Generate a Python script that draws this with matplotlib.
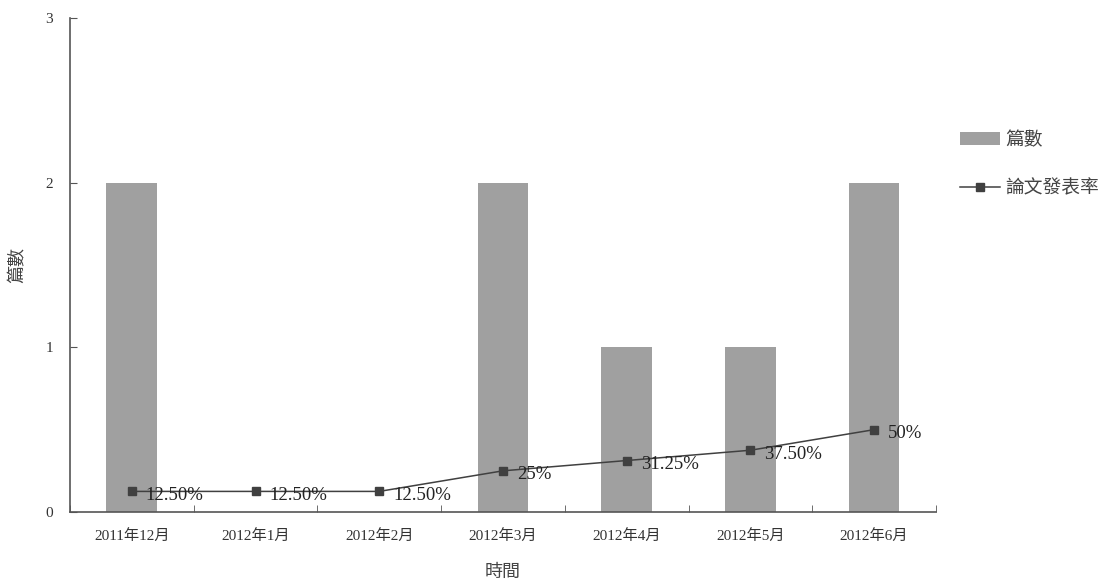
import matplotlib
matplotlib.use("Agg")
import matplotlib.pyplot as plt

plt.rcParams['font.family'] = ['Liberation Serif', 'Noto Sans CJK TC']

months = ["2011年12月", "2012年1月", "2012年2月", "2012年3月",
          "2012年4月", "2012年5月", "2012年6月"]
papers = [2, 0, 0, 2, 1, 1, 2]
rate = [12.5, 12.5, 12.5, 25, 31.25, 37.5, 50]
rate_labels = ["12.50%", "12.50%", "12.50%", "25%", "31.25%", "37.50%", "50%"]

fig = plt.figure(figsize=(11.07, 5.82), dpi=100)
ax = fig.add_axes([0.0632, 0.1203, 0.7823, 0.8487])

x = list(range(len(months)))
bars = ax.bar(x, papers, width=0.41, color="#a0a0a0", label="篇數", zorder=1)
line, = ax.plot(x, [r / 100 for r in rate], color="#404040", lw=1.1,
                marker="s", ms=6, label="論文發表率", zorder=3)

for xi, r, lab in zip(x, rate, rate_labels):
    ax.annotate(lab, (xi, r / 100), xytext=(10, -3), textcoords="offset points",
                ha="left", va="center", fontsize=13.5, color="#222222", zorder=4)

ax.set_xlim(-0.5, len(months) - 0.5)
ax.set_ylim(0, 3)
ax.set_yticks([0, 1, 2, 3])
ax.set_xticks(x)
ax.set_xticklabels(months)
ax.set_xticks([i - 0.5 for i in range(len(months) + 1)], minor=True)
ax.tick_params(axis="x", which="major", length=0, pad=12, labelsize=11, labelcolor="#333333")
ax.tick_params(axis="x", which="minor", direction="in", length=5, color="#555555")
ax.tick_params(axis="y", direction="in", length=5, color="#555555", pad=12,
               labelsize=11, labelcolor="#333333")

for side in ("top", "right"):
    ax.spines[side].set_visible(False)
for side in ("left", "bottom"):
    ax.spines[side].set_color("#555555")
    ax.spines[side].set_linewidth(1.2)

ax.set_xlabel("時間", fontsize=13, color="#444444", labelpad=15)
ax.set_ylabel("篇數", fontsize=13, color="#444444", labelpad=14)

fig.legend(handles=[bars, line], loc="upper left", bbox_to_anchor=(0.867, 0.774),
           frameon=False, borderpad=0, borderaxespad=0, fontsize=13.5,
           handlelength=2.15, handleheight=0.64, handletextpad=0.25,
           labelspacing=1.65, labelcolor="#444444")

fig.savefig("out.png", dpi=100)
